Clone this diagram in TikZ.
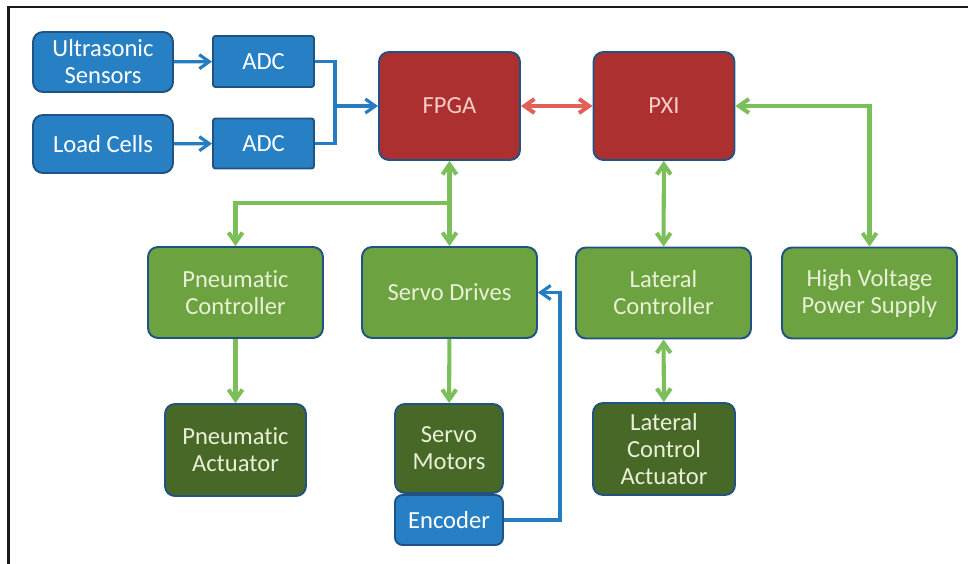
\documentclass[tikz,border=0pt]{standalone}
\usepackage{fontspec}
\setmainfont[Ligatures=NoCommon]{Carlito}
\usepackage{tikz}
\usetikzlibrary{shapes,arrows,arrows.meta,positioning,calc}

\definecolor{boxblue}{RGB}{40,128,196}
\definecolor{edgeblue}{RGB}{32,82,130}
\definecolor{boxred}{RGB}{172,48,48}
\definecolor{boxgreen}{RGB}{108,162,64}
\definecolor{boxdkgreen}{RGB}{72,104,40}
\definecolor{linegreen}{RGB}{124,190,90}
\definecolor{lineblue}{RGB}{38,124,192}
\definecolor{linered}{RGB}{226,96,90}
\definecolor{txtgreen}{RGB}{232,240,214}
\definecolor{txtred}{RGB}{246,204,198}

\begin{document}
\begin{tikzpicture}[x=0.02cm, y=-0.02cm,
  blk/.style={draw=edgeblue, line width=1.1pt, rounded corners=0.2cm, align=center,
    font=\fontsize{14}{15.4}\selectfont, inner sep=0pt},
  sensor/.style={blk, fill=boxblue, text=white},
  adc/.style={blk, fill=boxblue, text=white, rounded corners=0.5mm},
  core/.style={blk, fill=boxred, text=txtred, minimum width=2.82cm, minimum height=2.16cm},
  ctrl/.style={blk, fill=boxgreen, text=txtgreen, minimum width=3.5cm, minimum height=1.82cm},
  actu/.style={blk, fill=boxdkgreen, text=txtgreen},
  gline/.style={draw=linegreen, line width=2.3pt, arrows={-Straight Barb[length=2mm,width=2.8mm]}},
  bline/.style={draw=lineblue, line width=1.8pt, arrows={-Straight Barb[length=2mm,width=2.8mm]}},
  rline/.style={draw=linered, line width=2.3pt, arrows={Straight Barb[length=2mm,width=2.8mm]-Straight Barb[length=2mm,width=2.8mm]}}]
\useasboundingbox (0,0) rectangle (968,564);
% frame edges
\draw[line width=1.2pt, black!90] (8.5,564) -- (8.5,7) -- (968,7);

% sensors and converters
\node[sensor, minimum width=2.8cm, minimum height=1.2cm] (us) at (103,62) {Ultrasonic\\Sensors};
\node[sensor, minimum width=2.8cm, minimum height=1.16cm] (lc) at (103,144) {Load Cells};
\node[adc, minimum width=2.02cm, minimum height=1.02cm] (adc1) at (263.5,61.5) {ADC};
\node[adc, minimum width=2.02cm, minimum height=1.0cm] (adc2) at (263.5,143.5) {ADC};

% processing
\node[core] (fpga) at (449.5,106) {FPGA};
\node[core] (pxi) at (664,106) {PXI};

% controllers
\node[ctrl] (pc) at (235.5,292.5) {Pneumatic\\Controller};
\node[ctrl] (sd) at (449.5,292.5) {Servo Drives};
\node[ctrl] (lcon) at (663.5,293) {Lateral\\Controller};
\node[ctrl] (hv) at (869.5,293) {High Voltage\\Power Supply};

% actuators
\node[actu, minimum width=2.82cm, minimum height=1.84cm] (pa) at (235.5,450) {Pneumatic\\Actuator};
\node[actu, minimum width=2.16cm, minimum height=1.78cm] (sm) at (449,448.5) {Servo\\Motors};
\node[actu, minimum width=2.84cm, minimum height=1.84cm] (lca) at (664,449) {Lateral\\Control\\Actuator};
\node[sensor, minimum width=2.16cm, minimum height=1.0cm, rounded corners=0.15cm] (enc) at (449,520) {Encoder};

% junctions
\coordinate (jadc) at (335,106);
\coordinate (jb) at (449.5,203);
\coordinate (jenc) at (560,292.5);

% blue links
\draw[bline] (us) -- (adc1);
\draw[bline] (lc) -- (adc2);
\draw[draw=lineblue, line width=1.8pt] (adc1.east) -| (jadc);
\draw[draw=lineblue, line width=1.8pt] (adc2.east) -| (jadc);
\draw[bline] (jadc) -- (fpga);
\draw[bline] (enc.east) -| (jenc) -- (sd.east);

% red link
\draw[rline] (fpga) -- (pxi);

% green links
\draw[gline, arrows={Straight Barb[length=2mm,width=2.8mm]-Straight Barb[length=2mm,width=2.8mm]}] (fpga) -- (sd);
\draw[gline] (jb) -| (pc.north);
\draw[gline, arrows={Straight Barb[length=2mm,width=2.8mm]-Straight Barb[length=2mm,width=2.8mm]}] (pxi) -- (lcon);
\draw[gline, arrows={Straight Barb[length=2mm,width=2.8mm]-Straight Barb[length=2mm,width=2.8mm]}] (pxi.east) -| (hv.north);
\draw[gline, arrows={Straight Barb[length=2mm,width=2.8mm]-Straight Barb[length=2mm,width=2.8mm]}] (lcon) -- (lca);
\draw[gline] (pc) -- (pa);
\draw[gline] (sd) -- (sm);
\end{tikzpicture}
\end{document}
